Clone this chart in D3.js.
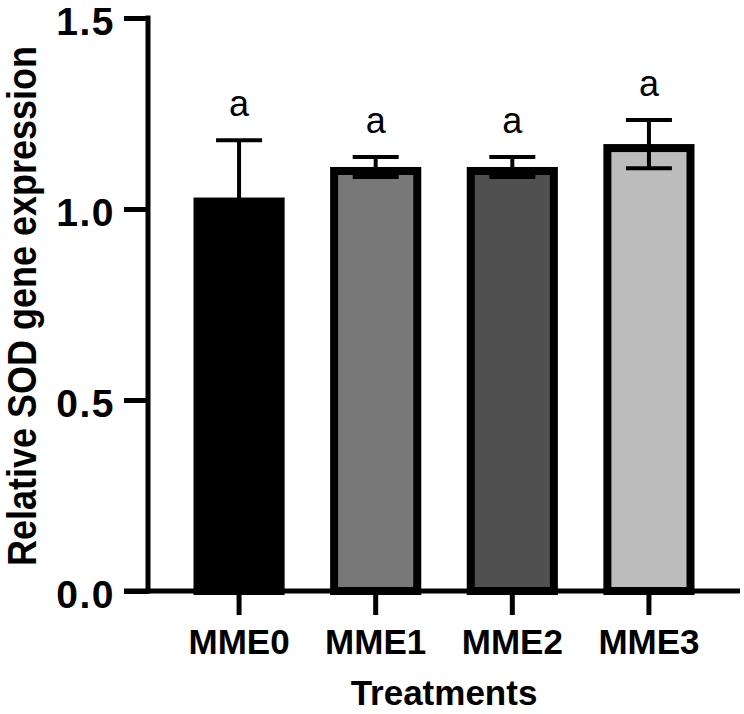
<!DOCTYPE html>
<html>
<head>
<meta charset="utf-8">
<script src="https://cdn.jsdelivr.net/npm/d3@7"></script>
<style>
  html, body { margin: 0; padding: 0; background: #fff; }
  svg text { font-family: 'Liberation Sans', Arial, sans-serif; }
</style>
</head>
<body>
<div id="chart"></div>
<script>
// data
const treatments = ['MME0', 'MME1', 'MME2', 'MME3'];
const means = [1.03, 1.11, 1.11, 1.17];
const sds = [0.15, 0.026, 0.026, 0.063];
const letters = ['a', 'a', 'a', 'a'];
const barFills = ['#000000', '#787878', '#505050', '#bcbcbc'];
const yTicks = [0.0, 0.5, 1.0, 1.5];

const W = 744, H = 714;
const AXW = 5;          // axis stroke
const BAR_SW = 8;       // bar border
const TICK = 24;

const svg = d3.select('#chart').append('svg')
  .attr('width', W).attr('height', H)
  .attr('viewBox', `0 0 ${W} ${H}`);

const y = d3.scaleLinear().domain([0, 1.5]).range([591, 18]);
const x = d3.scaleBand().domain(treatments).range([148, 740])
  .paddingInner(0.333).paddingOuter(0.333);

const rows = treatments.map((t, i) => ({
  t, mean: means[i], sd: sds[i], letter: letters[i], fill: barFills[i],
}));

/* ── Bars ── */
svg.append('g').selectAll('rect').data(rows).enter().append('rect')
  .attr('x', d => x(d.t) + BAR_SW / 2)
  .attr('y', d => y(d.mean) + BAR_SW / 2)
  .attr('width', x.bandwidth() - BAR_SW)
  .attr('height', d => y(0) - y(d.mean) - BAR_SW / 2)
  .attr('fill', d => d.fill)
  .attr('stroke', '#000')
  .attr('stroke-width', BAR_SW);

/* ── Error bars ── */
const cx = d => x(d.t) + x.bandwidth() / 2;
const capW = 46;
const eg = svg.append('g').attr('stroke', '#000').attr('stroke-width', 4);
eg.selectAll('line.v').data(rows).enter().append('line').attr('class', 'v')
  .attr('x1', cx).attr('x2', cx)
  .attr('y1', d => y(d.mean + d.sd)).attr('y2', d => y(d.mean - d.sd));
eg.selectAll('line.top').data(rows).enter().append('line').attr('class', 'top')
  .attr('x1', d => cx(d) - capW / 2).attr('x2', d => cx(d) + capW / 2)
  .attr('y1', d => y(d.mean + d.sd)).attr('y2', d => y(d.mean + d.sd));
eg.selectAll('line.bot').data(rows).enter().append('line').attr('class', 'bot')
  .attr('x1', d => cx(d) - capW / 2).attr('x2', d => cx(d) + capW / 2)
  .attr('y1', d => y(d.mean - d.sd)).attr('y2', d => y(d.mean - d.sd));

/* ── Significance letters ── */
svg.append('g').selectAll('text').data(rows).enter().append('text')
  .text(d => d.letter)
  .attr('x', cx)
  .attr('y', d => y(d.mean + d.sd) - 24)
  .attr('text-anchor', 'middle')
  .attr('font-size', 36)
  .attr('fill', '#000');

/* ── Y axis ── */
const yAxis = d3.axisLeft(y).tickValues(yTicks).tickFormat(d3.format('.1f'))
  .tickSize(TICK).tickPadding(9).tickSizeOuter(0);
const gy = svg.append('g').attr('transform', 'translate(148,0)').call(yAxis);
gy.select('.domain').attr('stroke', '#000').attr('stroke-width', AXW)
  .attr('d', `M0,${y(1.5) - AXW / 2}V${y(0) + AXW / 2}`);
gy.selectAll('.tick line').attr('stroke', '#000').attr('stroke-width', AXW);
gy.selectAll('.tick text')
  .attr('font-size', 39).attr('font-weight', 'bold').attr('fill', '#000')
  .attr('letter-spacing', 1.5)
  .attr('dy', '0.42em')
  .attr('font-family', "'Liberation Sans', Arial, sans-serif");

/* ── X axis ── */
const xAxis = d3.axisBottom(x).tickSize(TICK).tickPadding(14).tickSizeOuter(0);
const gx = svg.append('g').attr('transform', `translate(0,${y(0)})`).call(xAxis);
gx.select('.domain').attr('stroke', '#000').attr('stroke-width', AXW)
  .attr('d', `M124,0H740`);
gx.selectAll('.tick line').attr('stroke', '#000').attr('stroke-width', AXW);
gx.selectAll('.tick text')
  .attr('font-size', 35).attr('font-weight', 'bold').attr('fill', '#000')
  .attr('font-family', "'Liberation Sans', Arial, sans-serif");

/* ── Axis titles ── */
svg.append('text')
  .text('Treatments')
  .attr('x', 444).attr('y', 705)
  .attr('text-anchor', 'middle')
  .attr('font-size', 35).attr('font-weight', 'bold');

svg.append('text')
  .text('Relative SOD gene expression')
  .attr('transform', 'translate(36,306) rotate(-90) scale(1,1.12)')
  .attr('text-anchor', 'middle')
  .attr('font-size', 36).attr('font-weight', 'bold');
</script>
</body>
</html>
